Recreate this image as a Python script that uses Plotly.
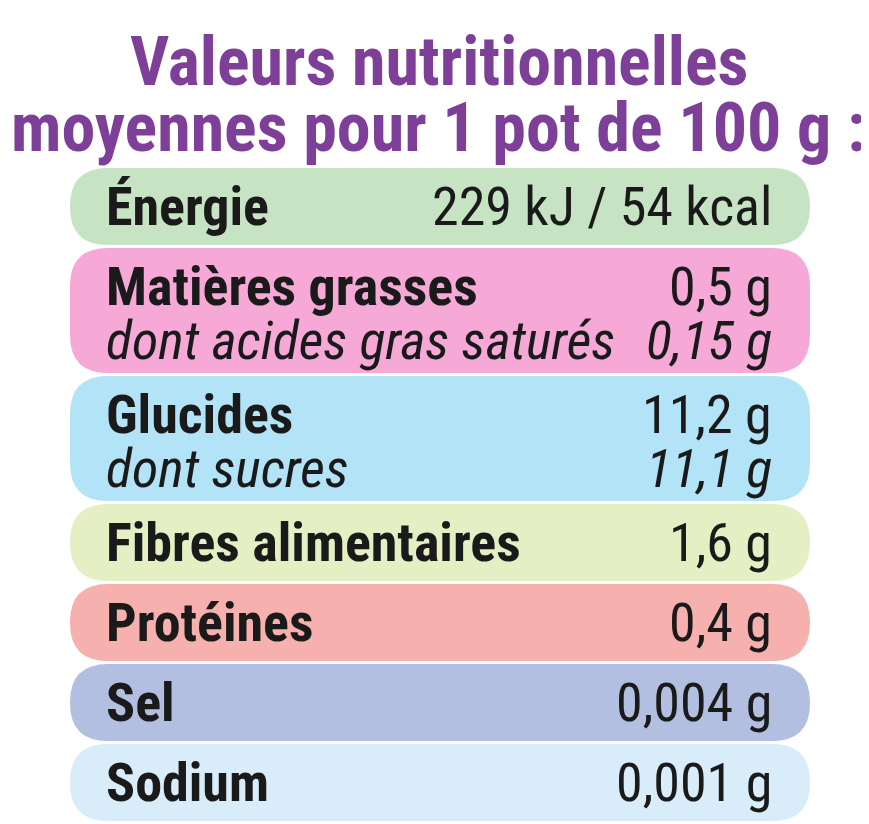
import plotly.graph_objects as go

# Nutrition table content
title_lines = ["Valeurs nutritionnelles", "moyennes pour 1 pot de 100 g :"]
nutrients = ["Énergie", "Matières grasses", "Glucides", "Fibres alimentaires", "Protéines", "Sel", "Sodium"]
amounts = ["229 kJ / 54 kcal", "0,5 g", "11,2 g", "1,6 g", "0,4 g", "0,004 g", "0,001 g"]
sub_nutrients = [None, "dont acides gras saturés", "dont sucres", None, None, None, None]
sub_amounts = [None, "0,15 g", "11,1 g", None, None, None, None]
row_colors = ["#c6e4c3", "#f6a9d7", "#b2e3f6", "#e4efc3", "#f6b0ae", "#b2bfe0", "#d8edf9"]

W, H = 869, 824
FONT = "Roboto Condensed, Liberation Sans Narrow, Arial Narrow, sans-serif"
purple = "#7d3f97"
ink = "#1a1a1a"


def pill(x0, y0, x1, y1, r):
    # rounded rectangle path in pixel coords (y grows downward -> flip)
    Y0, Y1 = H - y1, H - y0
    return (f"M {x0+r},{Y0} L {x1-r},{Y0} Q {x1},{Y0} {x1},{Y0+r} "
            f"L {x1},{Y1-r} Q {x1},{Y1} {x1-r},{Y1} L {x0+r},{Y1} "
            f"Q {x0},{Y1} {x0},{Y1-r} L {x0},{Y0+r} Q {x0},{Y0} {x0+r},{Y0} Z")


fig = go.Figure()
shapes, annots = [], []

for i, line in enumerate(title_lines):
    annots.append(dict(x=W / 2 - 4, y=H - (54 + i * 66), text=f"<b>{line}</b>", showarrow=False,
                       font=dict(family=FONT, size=68, color=purple), xanchor="center", yanchor="middle"))

y = 160
x0, x1 = 62, 802
for name, amt, sub, subamt, col in zip(nutrients, amounts, sub_nutrients, sub_amounts, row_colors):
    h = 128 if sub else 80
    shapes.append(dict(type="path", path=pill(x0, y, x1, y + h - 3, 38), fillcolor=col, line_width=0, layer="below"))
    main_y = y + 38
    annots.append(dict(x=96, y=H - main_y, text=f"<b>{name}</b>", showarrow=False, xanchor="left", yanchor="middle",
                       font=dict(family=FONT, size=54, color=ink)))
    annots.append(dict(x=766, y=H - main_y, text=amt, showarrow=False, xanchor="right", yanchor="middle",
                       font=dict(family=FONT, size=54, color=ink)))
    if sub:
        annots.append(dict(x=96, y=H - (y + 92), text=f"<i>{sub}</i>", showarrow=False, xanchor="left", yanchor="middle",
                           font=dict(family=FONT, size=54, color=ink)))
        annots.append(dict(x=766, y=H - (y + 92), text=f"<i>{subamt}</i>", showarrow=False, xanchor="right", yanchor="middle",
                           font=dict(family=FONT, size=54, color=ink)))
    y += h

fig.update_layout(
    width=W, height=H, margin=dict(l=0, r=0, t=0, b=0),
    paper_bgcolor="white", plot_bgcolor="white",
    xaxis=dict(range=[0, W], visible=False, fixedrange=True),
    yaxis=dict(range=[0, H], visible=False, fixedrange=True),
    shapes=shapes, annotations=annots, showlegend=False,
)
fig.write_html("out.html")
